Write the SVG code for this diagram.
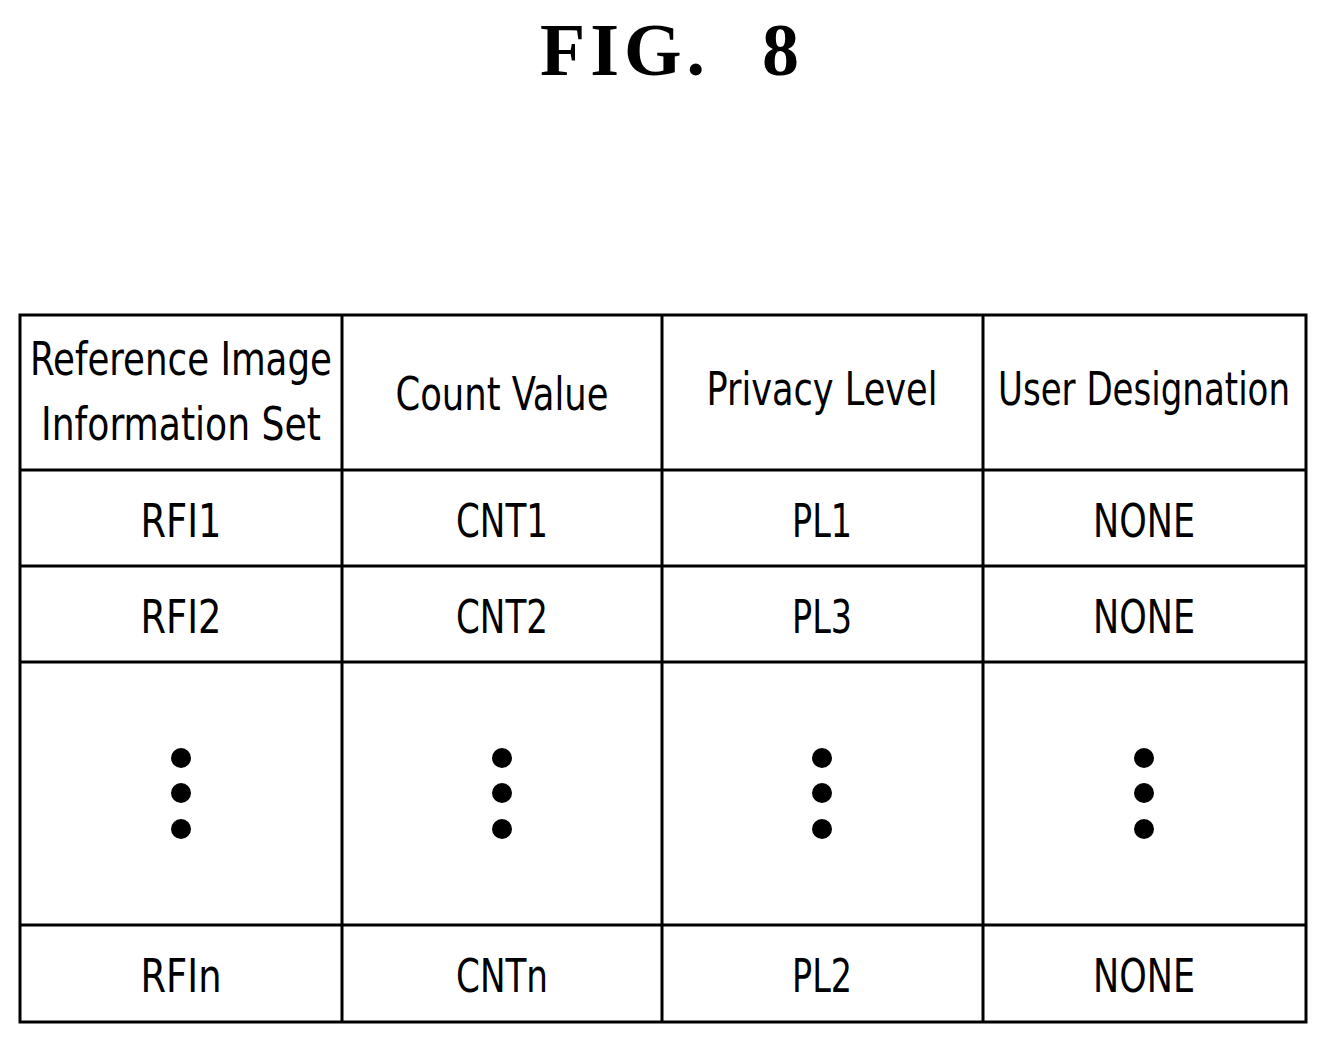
<svg xmlns="http://www.w3.org/2000/svg" width="1328" height="1044" viewBox="0 0 1328 1044">
<style>
.t{font-family:"DejaVu Sans Condensed","DejaVu Sans",sans-serif;font-size:46px;text-anchor:middle;fill:#000}
.h{font-family:"Liberation Serif",serif;font-weight:bold;font-size:74px}
.l{stroke:#000;stroke-width:3;fill:none}
</style>
<rect width="1328" height="1044" fill="#fff"/>
<g id="title">
<text class="h" x="540" y="75" textLength="165" lengthAdjust="spacing">FIG.</text>
<text class="h" x="762" y="75">8</text>
</g>
<g id="grid">
<rect class="l" x="20" y="315" width="1286" height="707"/>
<path class="l" d="M342 315V1022M662 315V1022M983 315V1022M20 470H1306M20 566H1306M20 662H1306M20 925H1306"/>
</g>
<g id="header">
<text class="t" x="181" y="375" textLength="302" lengthAdjust="spacingAndGlyphs">Reference Image</text>
<text class="t" x="181" y="440" textLength="280" lengthAdjust="spacingAndGlyphs">Information Set</text>
<text class="t" x="502" y="410" textLength="213" lengthAdjust="spacingAndGlyphs">Count Value</text>
<text class="t" x="822" y="405" textLength="231" lengthAdjust="spacingAndGlyphs">Privacy Level</text>
<text class="t" x="1144" y="405" textLength="292" lengthAdjust="spacingAndGlyphs">User Designation</text>
</g>
<g id="rows">
<text class="t" x="181" y="537" textLength="81" lengthAdjust="spacingAndGlyphs">RFI1</text><text class="t" x="502" y="537" textLength="92" lengthAdjust="spacingAndGlyphs">CNT1</text><text class="t" x="822" y="537" textLength="60" lengthAdjust="spacingAndGlyphs">PL1</text><text class="t" x="1144" y="537" textLength="102" lengthAdjust="spacingAndGlyphs">NONE</text>
<text class="t" x="181" y="633" textLength="81" lengthAdjust="spacingAndGlyphs">RFI2</text><text class="t" x="502" y="633" textLength="92" lengthAdjust="spacingAndGlyphs">CNT2</text><text class="t" x="822" y="633" textLength="60" lengthAdjust="spacingAndGlyphs">PL3</text><text class="t" x="1144" y="633" textLength="102" lengthAdjust="spacingAndGlyphs">NONE</text>
<text class="t" x="181" y="992" textLength="81" lengthAdjust="spacingAndGlyphs">RFIn</text><text class="t" x="502" y="992" textLength="92" lengthAdjust="spacingAndGlyphs">CNTn</text><text class="t" x="822" y="992" textLength="60" lengthAdjust="spacingAndGlyphs">PL2</text><text class="t" x="1144" y="992" textLength="102" lengthAdjust="spacingAndGlyphs">NONE</text>
</g>
<g id="dots">
<circle cx="181" cy="758" r="10"/><circle cx="181" cy="793" r="10"/><circle cx="181" cy="829" r="10"/>
<circle cx="502" cy="758" r="10"/><circle cx="502" cy="793" r="10"/><circle cx="502" cy="829" r="10"/>
<circle cx="822" cy="758" r="10"/><circle cx="822" cy="793" r="10"/><circle cx="822" cy="829" r="10"/>
<circle cx="1144" cy="758" r="10"/><circle cx="1144" cy="793" r="10"/><circle cx="1144" cy="829" r="10"/>
</g>
</svg>
